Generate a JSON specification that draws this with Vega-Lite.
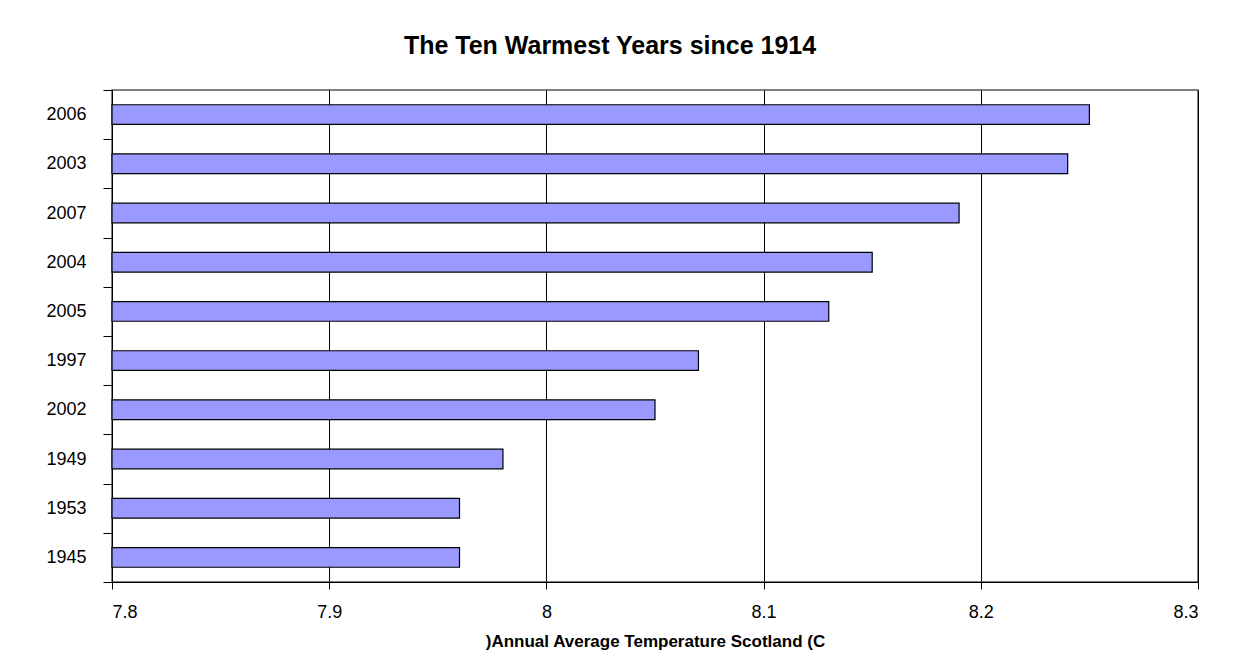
{
  "$schema": "https://vega.github.io/schema/vega-lite/v6.json",
  "width": 1086,
  "height": 492,
  "autosize": {"type": "none"},
  "padding": {"left": 112, "top": 90, "right": 36, "bottom": 86},
  "background": "white",
  "title": {
    "text": "The Ten Warmest Years since 1914",
    "font": "Liberation Sans",
    "fontSize": 25,
    "fontWeight": "bold",
    "color": "black",
    "anchor": "middle",
    "dx": -45,
    "offset": 22
  },
  "data": {
    "values": [
      {"year": "2006", "temp": 8.25},
      {"year": "2003", "temp": 8.24},
      {"year": "2007", "temp": 8.19},
      {"year": "2004", "temp": 8.15},
      {"year": "2005", "temp": 8.13},
      {"year": "1997", "temp": 8.07},
      {"year": "2002", "temp": 8.05},
      {"year": "1949", "temp": 7.98},
      {"year": "1953", "temp": 7.96},
      {"year": "1945", "temp": 7.96}
    ]
  },
  "mark": {"type": "bar", "fill": "#9999FF", "stroke": "black", "strokeWidth": 1.2, "height": {"band": 0.4}},
  "encoding": {
    "y": {
      "field": "year",
      "type": "nominal",
      "sort": null,
      "scale": {"paddingInner": 0, "paddingOuter": 0},
      "axis": {
        "title": null,
        "tickBand": "extent",
        "tickSize": 9,
        "tickColor": "black",
        "domainColor": "black",
        "labelFont": "Liberation Sans",
        "labelFontSize": 18,
        "labelColor": "black",
        "labelPadding": 17
      }
    },
    "x": {
      "field": "temp",
      "type": "quantitative",
      "scale": {"domain": [7.8, 8.3], "zero": false, "nice": false},
      "axis": {
        "values": [7.8, 7.9, 8.0, 8.1, 8.2, 8.3],
        "format": "~g",
        "grid": true,
        "gridColor": "black",
        "gridWidth": 1,
        "gridOpacity": 1,
        "tickSize": 7,
        "tickColor": "black",
        "domainColor": "black",
        "labelFont": "Liberation Sans",
        "labelFontSize": 18,
        "labelColor": "black",
        "labelPadding": 14,
        "title": ")Annual Average Temperature Scotland (C",
        "titleFont": "Liberation Sans",
        "titleFontSize": 17,
        "titleFontWeight": "bold",
        "titleColor": "black",
        "titlePadding": 12
      }
    },
    "x2": {"datum": 7.8}
  },
  "config": {"view": {"stroke": "#555555", "strokeWidth": 1.5}}
}
